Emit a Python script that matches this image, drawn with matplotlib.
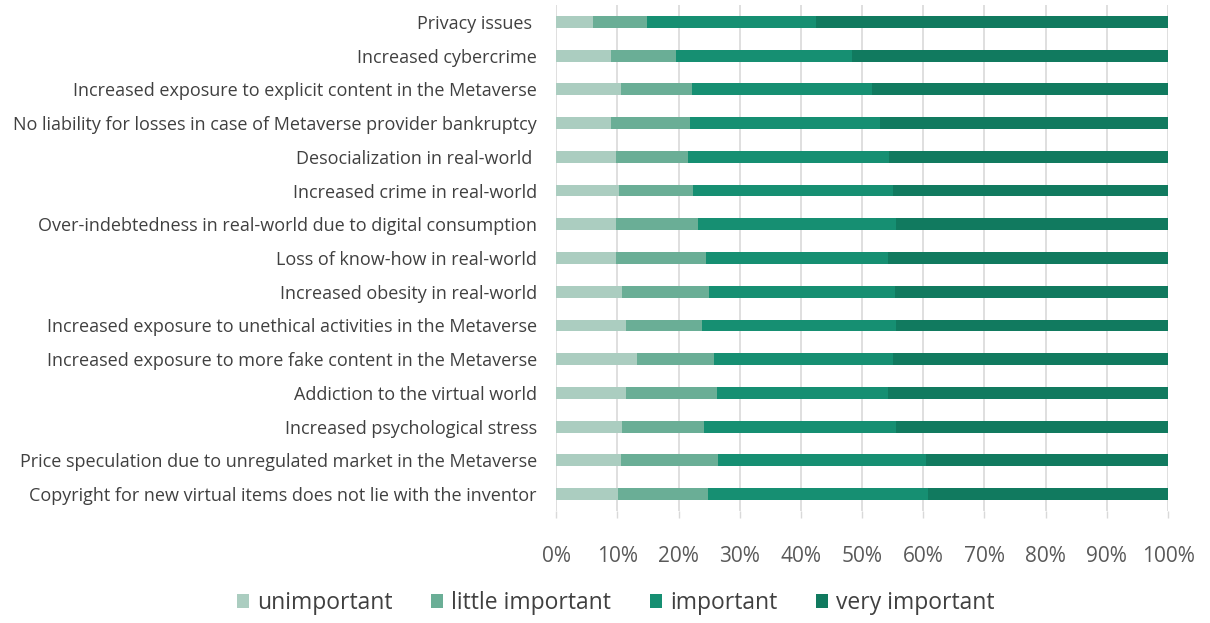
import matplotlib
matplotlib.use("Agg")
import matplotlib.pyplot as plt
import numpy as np

categories = [
    "Privacy issues ",
    "Increased cybercrime",
    "Increased exposure to explicit content in the Metaverse",
    "No liability for losses in case of Metaverse provider bankruptcy",
    "Desocialization in real-world ",
    "Increased crime in real-world",
    "Over-indebtedness in real-world due to digital consumption",
    "Loss of know-how in real-world",
    "Increased obesity in real-world",
    "Increased exposure to unethical activities in the Metaverse",
    "Increased exposure to more fake content in the Metaverse",
    "Addiction to the virtual world",
    "Increased psychological stress",
    "Price speculation due to unregulated market in the Metaverse",
    "Copyright for new virtual items does not lie with the inventor",
]

# cumulative boundaries (%)
cum_unimportant = [6.0, 9.0, 10.6, 9.0, 9.7, 10.2, 9.7, 9.7, 10.7, 11.4, 13.2, 11.4, 10.7, 10.6, 10.1]
cum_little = [14.9, 19.5, 22.2, 21.9, 21.5, 22.4, 23.1, 24.4, 25.0, 23.8, 25.8, 26.2, 24.1, 26.4, 24.8]
cum_important = [42.4, 48.4, 51.6, 52.9, 54.4, 55.1, 55.5, 54.2, 55.3, 55.5, 55.1, 54.2, 55.6, 60.5, 60.7]

unimportant = np.array(cum_unimportant)
little_important = np.array(cum_little) - np.array(cum_unimportant)
important = np.array(cum_important) - np.array(cum_little)
very_important = 100 - np.array(cum_important)

series_names = ["unimportant", "little important", "important", "very important"]
colors = ["#abcdc0", "#6aae96", "#168f72", "#117a5f"]

plt.rcParams['font.family'] = ['Open Sans', 'DejaVu Sans']

fig = plt.figure(figsize=(12.1, 6.23), dpi=100)
ax = fig.add_axes([556.3/1210, 1-511/623, (1168-556.3)/1210, (511-5)/623])

y = np.arange(len(categories))
left = np.zeros(len(categories))
for vals, name, c in zip([unimportant, little_important, important, very_important], series_names, colors):
    ax.barh(y, vals, left=left, height=0.35, color=c, label=name, zorder=3)
    left = left + vals

ax.set_ylim(len(categories) - 0.5, -0.5)
ax.set_xlim(0, 100)
ax.set_yticks(y)
ax.set_yticklabels(categories, fontsize=13, color="#404040")
ax.set_xticks(np.arange(0, 101, 10))
ax.set_xticklabels([f"{v}%" for v in range(0, 101, 10)], fontsize=15, color="#595959")
ax.tick_params(axis='y', length=0, pad=14)
ax.tick_params(axis='x', length=5, color="#d9d9d9", pad=20, width=1)
ax.grid(axis='x', color="#d9d9d9", linewidth=1.2, zorder=0)
for s in ax.spines.values():
    s.set_visible(False)

fig.legend(loc='center', bbox_to_anchor=(0.509, 1-603/623), ncol=4, frameon=False,
           fontsize=16.5, handlelength=0.52, handleheight=0.52, handletextpad=0.35,
           columnspacing=1.7, labelcolor="#404040")

fig.savefig("out.png", dpi=100)
